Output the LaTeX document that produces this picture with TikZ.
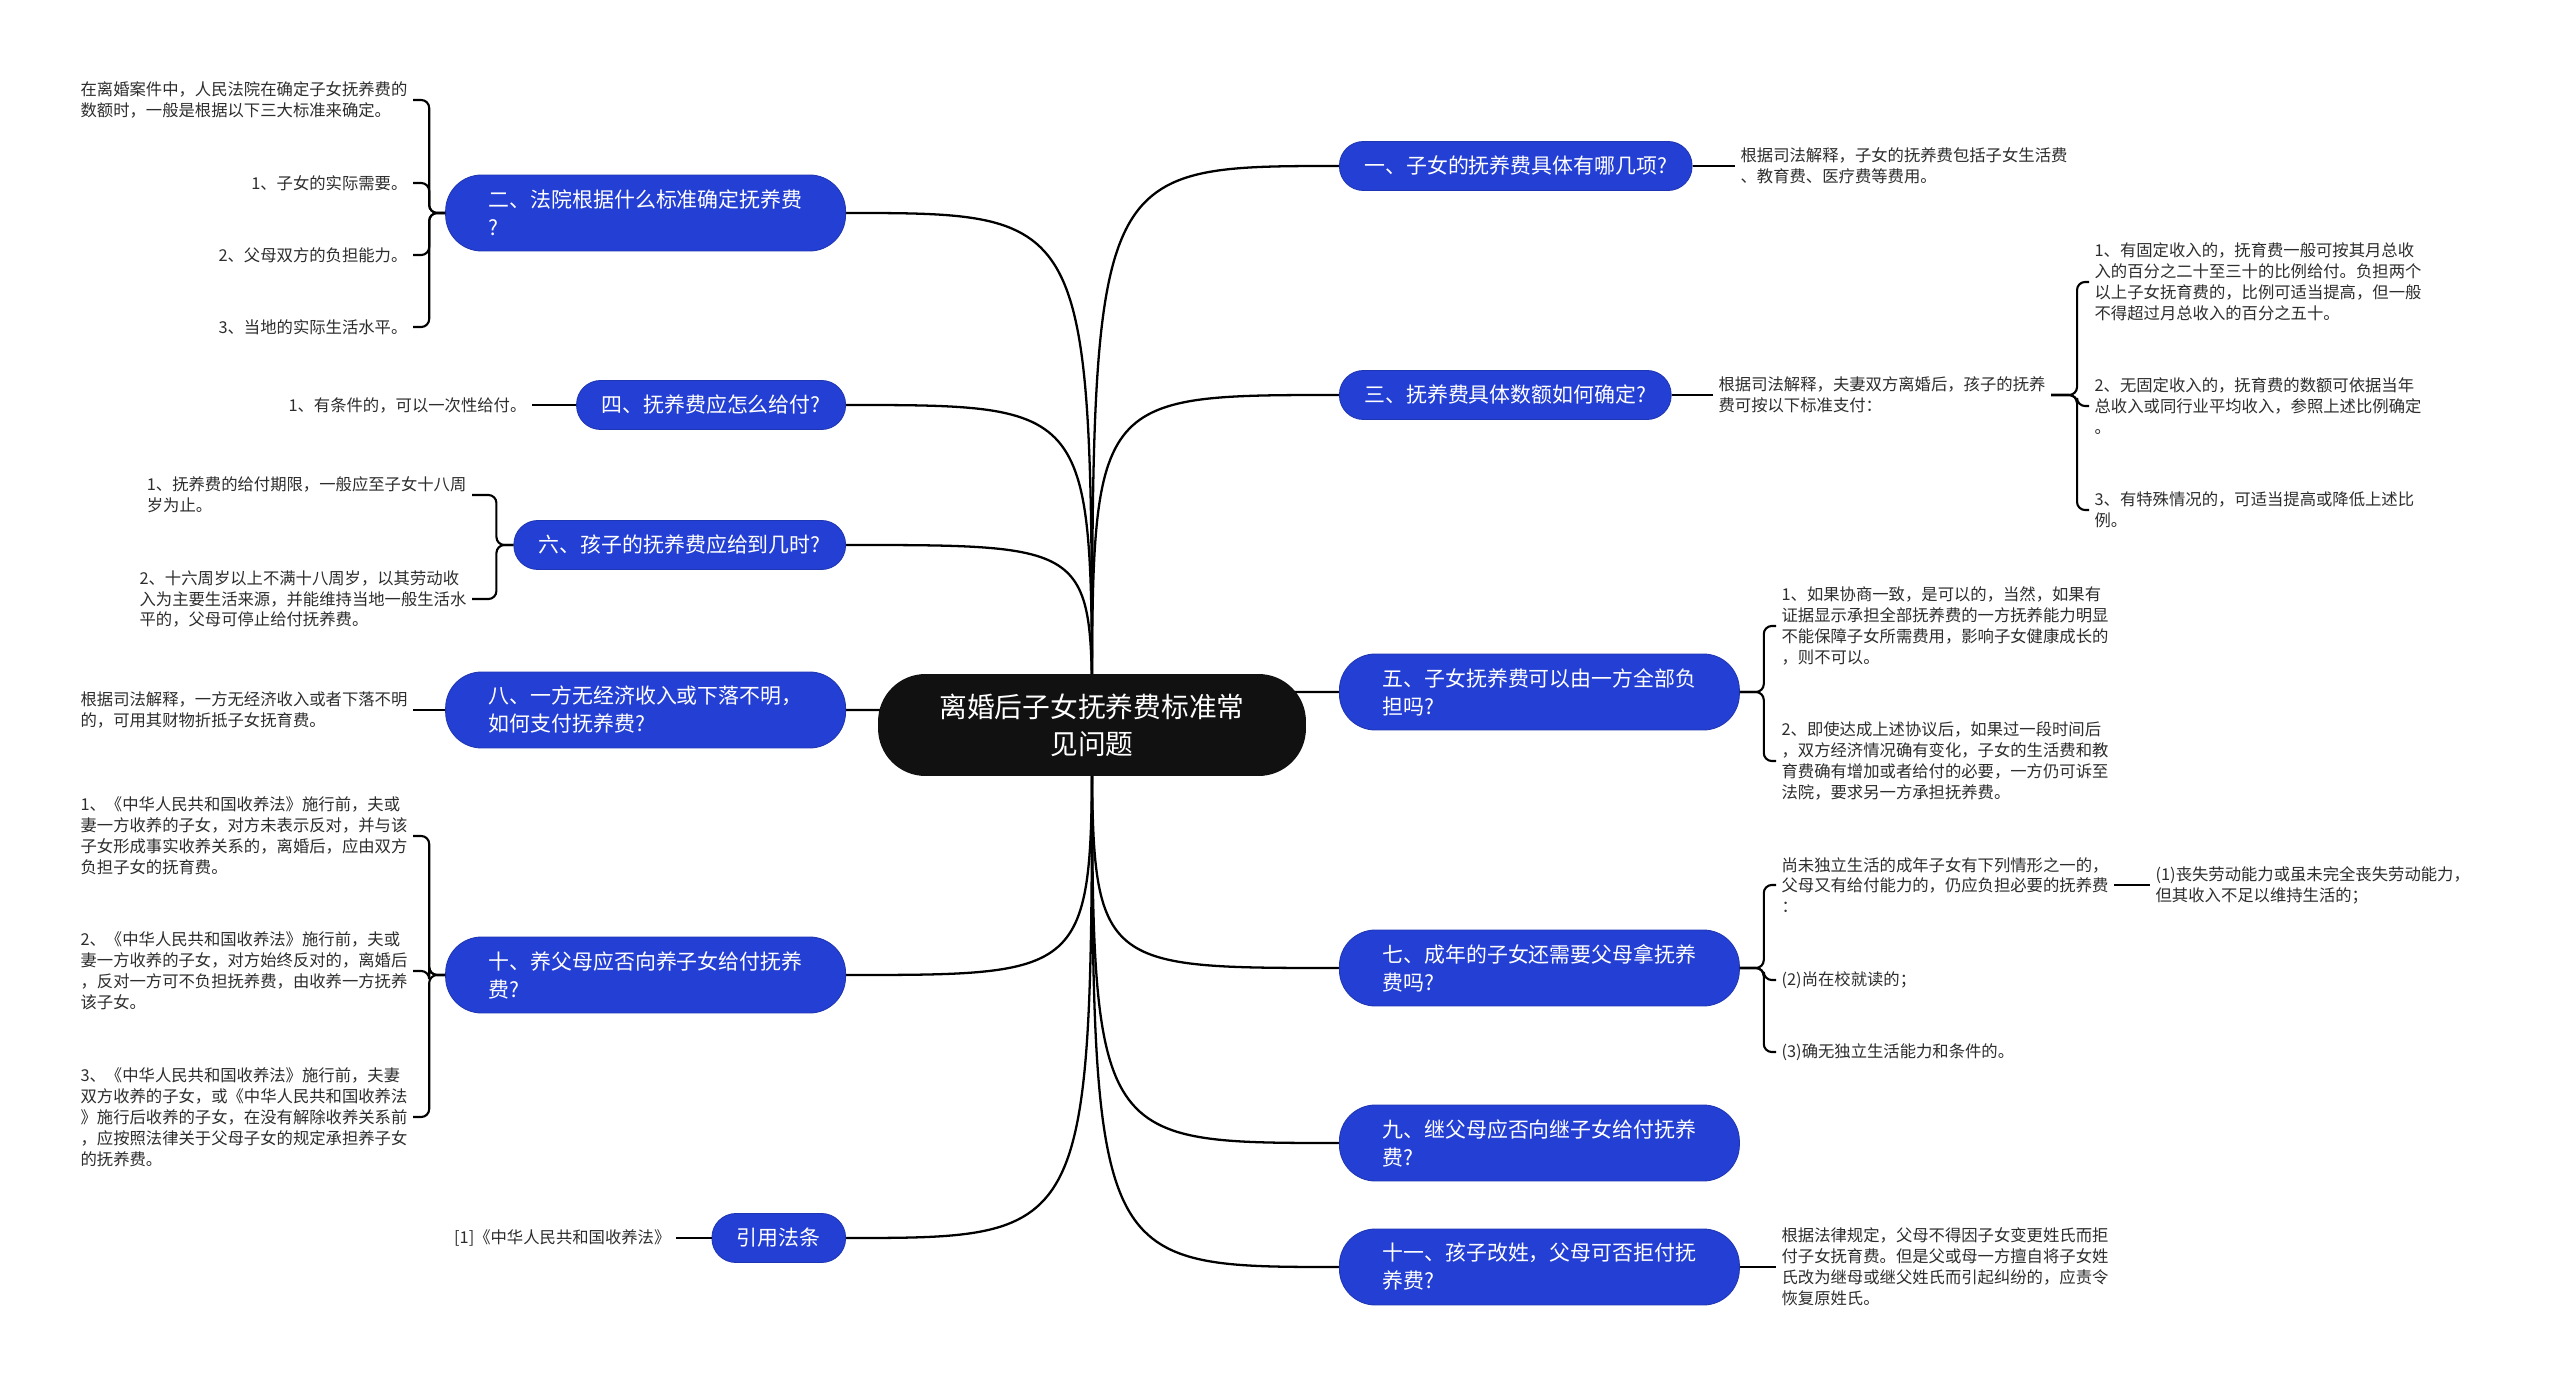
\documentclass[tikz,border=0pt]{standalone}
\usepackage{fontspec}
\setmainfont{Noto Sans CJK SC}
\usetikzlibrary{backgrounds}
\definecolor{rootK}{RGB}{17,17,17}
\definecolor{brB}{RGB}{36,63,212}
\definecolor{leafG}{RGB}{45,45,45}

\begin{document}
\begin{tikzpicture}[x=0.02cm,y=-0.02cm,
   root/.style={rounded corners=0.95cm,fill=rootK,text=white,minimum width=8.56cm,
     minimum height=2.04cm,align=center,font=\fontsize{15.8pt}{21pt}\selectfont},
   br/.style={rounded corners=0.48cm,draw=brB!85!black,line width=0.5pt,fill=brB,text=white,
     minimum height=0.98cm,inner xsep=0.5cm,align=left,font=\fontsize{11.9pt}{15.9pt}\selectfont},
   brtwo/.style={br,rounded corners=0.72cm,minimum height=1.52cm,minimum width=8.0cm,inner xsep=0.8cm},
   lf/.style={text=leafG,align=left,inner xsep=3pt,inner ysep=2pt,font=\fontsize{9.3pt}{11.9pt}\selectfont},
   e/.style={line width=1.3pt},
   bk/.style={line width=1.2pt,rounded corners=0.16cm}]
\useasboundingbox (0,0) rectangle (2560,1388);
%% ---- centre ----
\node[root] (root) at (1092,725) {离婚后子女抚养费标准常\\见问题};
%% ---- left branches ----
\node[brtwo,anchor=east] (b2) at (846,213) {二、法院根据什么标准确定抚养费\\?};
\node[br,anchor=east] (b4) at (846,405) {四、抚养费应怎么给付?};
\node[br,anchor=east] (b6) at (846,545) {六、孩子的抚养费应给到几时?};
\node[brtwo,anchor=east] (b8) at (846,710) {八、一方无经济收入或下落不明，\\如何支付抚养费?};
\node[brtwo,anchor=east] (b10) at (846,975) {十、养父母应否向养子女给付抚养\\费?};
\node[br,anchor=east] (bref) at (846,1238) {引用法条};
%% ---- right branches ----
\node[br,anchor=west] (b1) at (1339,166) {一、子女的抚养费具体有哪几项?};
\node[br,anchor=west] (b3) at (1339,395) {三、抚养费具体数额如何确定?};
\node[brtwo,anchor=west] (b5) at (1339,692) {五、子女抚养费可以由一方全部负\\担吗?};
\node[brtwo,anchor=west] (b7) at (1339,968) {七、成年的子女还需要父母拿抚养\\费吗?};
\node[brtwo,anchor=west] (b9) at (1339,1143) {九、继父母应否向继子女给付抚养\\费?};
\node[brtwo,anchor=west] (b11) at (1339,1267) {十一、孩子改姓，父母可否拒付抚\\养费?};
%% ---- left leaves ----
\node[lf,anchor=east] (l2a) at (413,100) {在离婚案件中，人民法院在确定子女抚养费的\\数额时，一般是根据以下三大标准来确定。};
\node[lf,anchor=east] (l2b) at (413,183) {1、子女的实际需要。};
\node[lf,anchor=east] (l2c) at (413,255) {2、父母双方的负担能力。};
\node[lf,anchor=east] (l2d) at (413,327) {3、当地的实际生活水平。};
\node[lf,anchor=east] (l4a) at (532,405) {1、有条件的，可以一次性给付。};
\node[lf,anchor=east] (l6a) at (472,495) {1、抚养费的给付期限，一般应至子女十八周\\岁为止。};
\node[lf,anchor=east] (l6b) at (472,599) {2、十六周岁以上不满十八周岁，以其劳动收\\入为主要生活来源，并能维持当地一般生活水\\平的，父母可停止给付抚养费。};
\node[lf,anchor=east] (l8a) at (413,710) {根据司法解释，一方无经济收入或者下落不明\\的，可用其财物折抵子女抚育费。};
\node[lf,anchor=east] (l10a) at (413,836) {1、《中华人民共和国收养法》施行前，夫或\\妻一方收养的子女，对方未表示反对，并与该\\子女形成事实收养关系的，离婚后，应由双方\\负担子女的抚育费。};
\node[lf,anchor=east] (l10b) at (413,971) {2、《中华人民共和国收养法》施行前，夫或\\妻一方收养的子女，对方始终反对的，离婚后\\，反对一方可不负担抚养费，由收养一方抚养\\该子女。};
\node[lf,anchor=east] (l10c) at (413,1117) {3、《中华人民共和国收养法》施行前，夫妻\\双方收养的子女，或《中华人民共和国收养法\\》施行后收养的子女，在没有解除收养关系前\\，应按照法律关于父母子女的规定承担养子女\\的抚养费。};
\node[lf,anchor=east] (lref) at (676,1238) {[1]《中华人民共和国收养法》};
%% ---- right leaves ----
\node[lf,anchor=west] (l1a) at (1735,166) {根据司法解释，子女的抚养费包括子女生活费\\、教育费、医疗费等费用。};
\node[lf,anchor=west] (l3a) at (1713,395) {根据司法解释，夫妻双方离婚后，孩子的抚养\\费可按以下标准支付：};
\node[lf,anchor=west] (l3b) at (2089,282) {1、有固定收入的，抚育费一般可按其月总收\\入的百分之二十至三十的比例给付。负担两个\\以上子女抚育费的，比例可适当提高，但一般\\不得超过月总收入的百分之五十。};
\node[lf,anchor=west] (l3c) at (2089,406) {2、无固定收入的，抚育费的数额可依据当年\\总收入或同行业平均收入，参照上述比例确定\\。};
\node[lf,anchor=west] (l3d) at (2089,510) {3、有特殊情况的，可适当提高或降低上述比\\例。};
\node[lf,anchor=west] (l5a) at (1776,626) {1、如果协商一致，是可以的，当然，如果有\\证据显示承担全部抚养费的一方抚养能力明显\\不能保障子女所需费用，影响子女健康成长的\\，则不可以。};
\node[lf,anchor=west] (l5b) at (1776,761) {2、即使达成上述协议后，如果过一段时间后\\，双方经济情况确有变化，子女的生活费和教\\育费确有增加或者给付的必要，一方仍可诉至\\法院，要求另一方承担抚养费。};
\node[lf,anchor=west] (l7a) at (1776,885) {尚未独立生活的成年子女有下列情形之一的，\\父母又有给付能力的，仍应负担必要的抚养费\\：};
\node[lf,anchor=west] (l7b) at (2150,885) {(1)丧失劳动能力或虽未完全丧失劳动能力，\\但其收入不足以维持生活的；};
\node[lf,anchor=west] (l7c) at (1776,980) {(2)尚在校就读的；};
\node[lf,anchor=west] (l7d) at (1776,1052) {(3)确无独立生活能力和条件的。};
\node[lf,anchor=west] (l11a) at (1776,1267) {根据法律规定，父母不得因子女变更姓氏而拒\\付子女抚育费。但是父或母一方擅自将子女姓\\氏改为继母或继父姓氏而引起纠纷的，应责令\\恢复原姓氏。};
%% ---- connectors ----
\begin{scope}[on background layer]
  \fill[white] (0,0) rectangle (2560,1388);
  \foreach \b in {b2,b4,b6,b8,b10,bref}
    \draw[e] (root.center) .. controls (root.center |- \b.east) .. (\b.east);
  \foreach \b in {b1,b3,b5,b7,b9,b11}
    \draw[e] (root.center) .. controls (root.center |- \b.west) .. (\b.west);
\end{scope}
\foreach \l in {l2a,l2b,l2c,l2d}
  \draw[bk] (b2.west) -- ++(-16,0) |- (\l.east);
\draw[bk] (b4.west) -- (l4a.east);
\foreach \l in {l6a,l6b}
  \draw[bk] (b6.west) -- ++(-17,0) |- (\l.east);
\draw[bk] (b8.west) -- (l8a.east);
\foreach \l in {l10a,l10b,l10c}
  \draw[bk] (b10.west) -- ++(-16,0) |- (\l.east);
\draw[bk] (bref.west) -- (lref.east);
\draw[bk] (b1.east) -- (l1a.west);
\draw[bk] (b3.east) -- (l3a.west);
\foreach \l in {l3b,l3c,l3d}
  \draw[bk] (l3a.east) -- ++(26,0) |- (\l.west);
\foreach \l in {l5a,l5b}
  \draw[bk] (b5.east) -- ++(24,0) |- (\l.west);
\foreach \l in {l7a,l7c,l7d}
  \draw[bk] (b7.east) -- ++(24,0) |- (\l.west);
\draw[bk] (l7a.east) -- (l7b.west);
\draw[bk] (b11.east) -- (l11a.west);
\end{tikzpicture}
\end{document}
